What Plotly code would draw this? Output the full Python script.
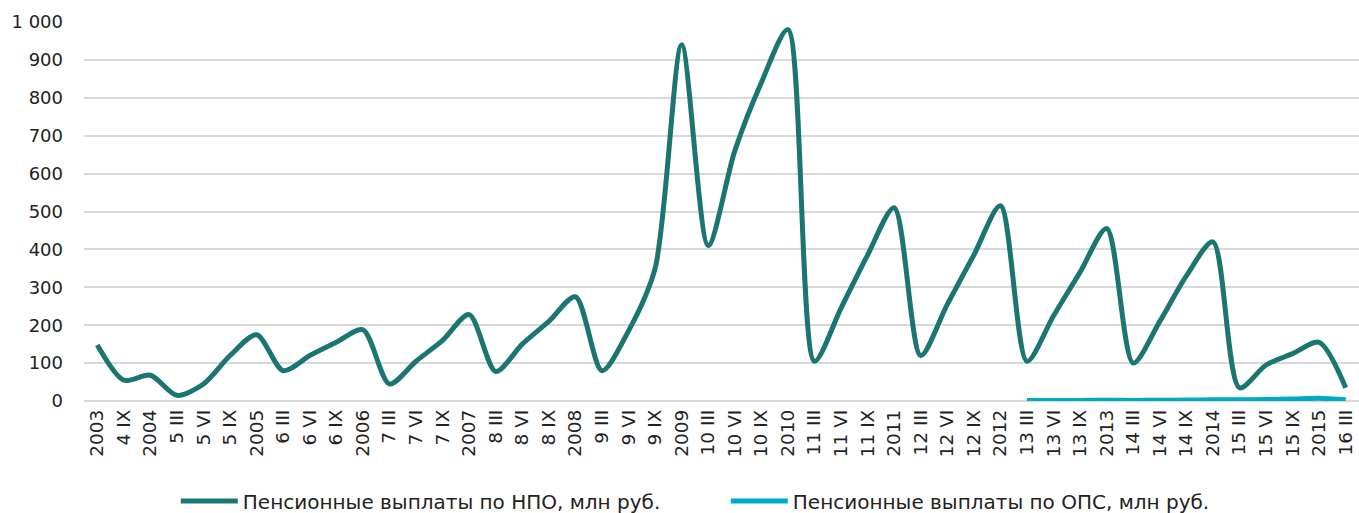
import plotly.graph_objects as go

categories = ["2003", "4 IX", "2004", "5 III", "5 VI", "5 IX", "2005", "6 III", "6 VI", "6 IX",
              "2006", "7 III", "7 VI", "7 IX", "2007", "8 III", "8 VI", "8 IX", "2008", "9 III",
              "9 VI", "9 IX", "2009", "10 III", "10 VI", "10 IX", "2010", "11 III", "11 VI", "11 IX",
              "2011", "12 III", "12 VI", "12 IX", "2012", "13 III", "13 VI", "13 IX", "2013", "14 III",
              "14 VI", "14 IX", "2014", "15 III", "15 VI", "15 IX", "2015", "16 III"]

npo = [148, 55, 68, 15, 45, 120, 175, 80, 120, 155,
       188, 45, 105, 160, 228, 78, 150, 210, 275, 80,
       185, 350, 940, 410, 660, 840, 980, 105, 245, 385,
       510, 120, 255, 385, 515, 105, 225, 340, 455, 100,
       210, 330, 420, 35, 95, 125, 155, 35]

ops_categories = categories[35:]
ops = [1, 1, 1.5, 2, 1.5, 2, 2.5, 3, 3, 4, 5, 7, 3]

name_npo = "Пенсионные выплаты по НПО, млн руб."
name_ops = "Пенсионные выплаты по ОПС, млн руб."

FONT = "DejaVu Sans"

fig = go.Figure()
fig.add_trace(go.Scatter(
    x=categories, y=npo, name=name_npo, mode="lines",
    line=dict(color="#1b7672", width=5, shape="spline", smoothing=0.8),
    cliponaxis=False,
))
fig.add_trace(go.Scatter(
    x=ops_categories, y=ops, name=name_ops, mode="lines",
    line=dict(color="#00a9c4", width=5, shape="spline", smoothing=0.8),
    cliponaxis=False,
))

fig.update_layout(
    width=1359, height=513,
    margin=dict(l=84, r=0, t=22, b=112, pad=0, autoexpand=False),
    paper_bgcolor="white", plot_bgcolor="white",
    separators=", ",
    font=dict(family=FONT, size=18, color="#222222"),
    showlegend=True,
    legend=dict(
        orientation="h", x=0.072, xanchor="left", y=-0.264, yanchor="middle",
        font=dict(family=FONT, size=20, color="#222222"),
        entrywidth=478, entrywidthmode="pixels", itemwidth=57,
        tracegroupgap=0, bgcolor="rgba(0,0,0,0)", borderwidth=0,
    ),
    xaxis=dict(
        type="category", categoryorder="array", categoryarray=categories,
        range=[-0.5, len(categories) - 0.5],
        showgrid=False, showline=False, zeroline=False,
        tickangle=-90, ticks="", tickfont=dict(size=18.5),
        ticklabelstandoff=4, automargin=False,
    ),
    yaxis=dict(
        range=[0, 1000], dtick=100, tick0=0,
        showgrid=True, gridcolor="#d9d9d9", gridwidth=1.5,
        zeroline=True, zerolinecolor="#d9d9d9", zerolinewidth=1.5,
        showline=False, ticks="", tickformat=",d",
        tickfont=dict(size=18), ticklabelstandoff=20, automargin=False,
    ),
)

fig.write_html(
    "out.html",
    config={"displayModeBar": False},
    post_script="document.body.style.margin='0';document.body.style.overflow='hidden';",
)
